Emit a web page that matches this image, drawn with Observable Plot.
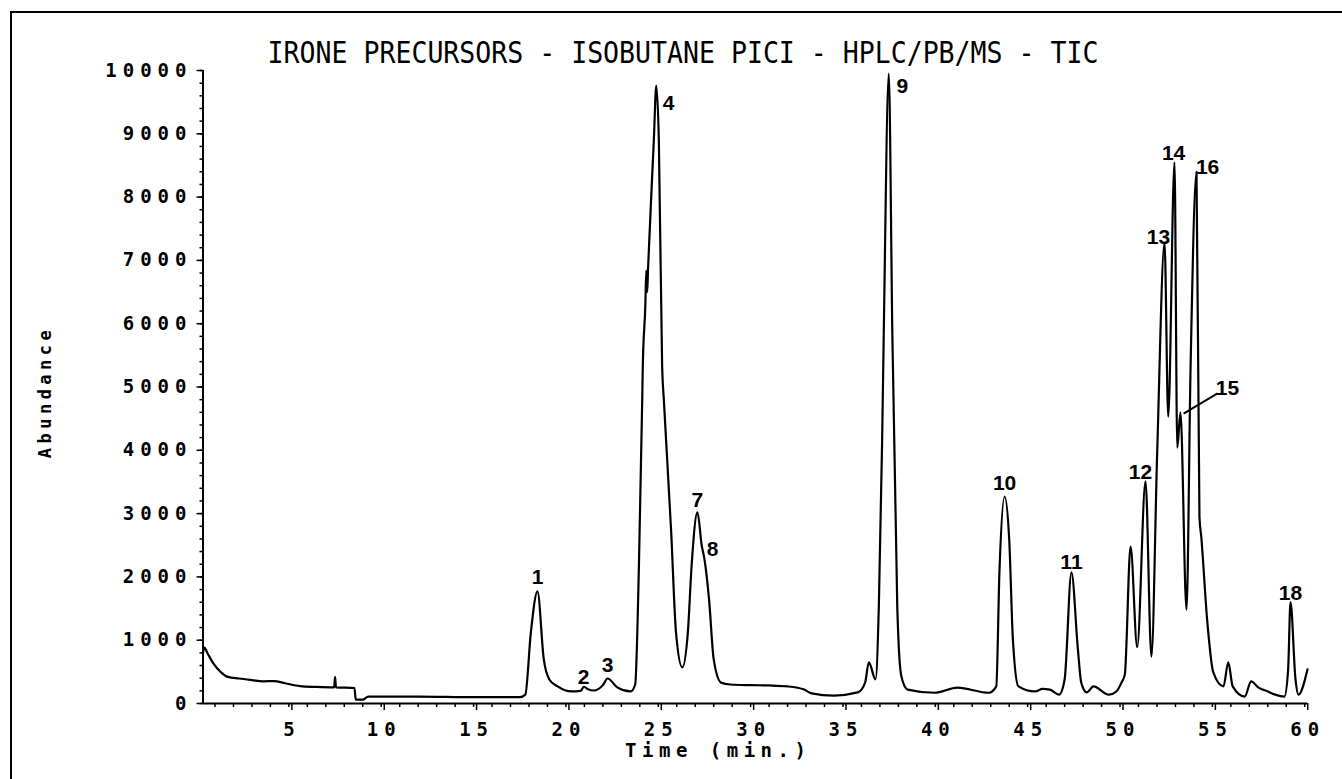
<!DOCTYPE html>
<html><head><meta charset="utf-8">
<script src="https://cdn.jsdelivr.net/npm/d3@7"></script>
<script src="https://cdn.jsdelivr.net/npm/@observablehq/plot@0.6"></script>
<style>
html,body{margin:0;padding:0;background:#fff;}
#wrap{position:relative;width:1342px;height:779px;overflow:hidden;background:#fff;}
#frame{position:absolute;left:10px;top:11px;width:1340px;height:780px;border-top:2px solid #000;border-left:2px solid #000;}
#title{position:absolute;left:683px;top:37px;display:inline-block;white-space:nowrap;font:31px "DejaVu Sans Mono";line-height:31px;color:#000;transform:translateX(-50%) scaleX(0.856);}
#chart{position:absolute;left:0;top:0;}
g[aria-label="y-axis tick label"] text, g[aria-label="x-axis tick label"] text{letter-spacing:6px;}
</style>
</head><body>
<div id="wrap"><div id="frame"></div><div id="chart"></div><div id="title">IRONE PRECURSORS - ISOBUTANE PICI - HPLC/PB/MS - TIC</div></div>
<script>
// Total ion current trace (time in min, abundance)
const times = [0.35,0.42,0.6,0.92,1.3,1.7,2.3,3.0,3.6,4.2,4.8,5.6,6.5,7.45,7.5,7.55,8.55,8.62,9.0,9.3,12,15,17.5,17.8,18.1,18.46,18.8,19.1,19.55,20.3,20.8,20.97,21.2,21.5,22.0,22.25,22.8,23.5,23.75,23.95,24.13,24.16,24.3,24.35,24.4,24.45,24.76,24.89,25.03,25.21,25.3,25.7,25.96,26.3,26.6,26.8,27.12,27.35,27.5,27.75,28.0,28.4,28.9,30,31,32,32.9,33.3,34.5,35.8,36.2,36.4,36.76,36.94,37.12,37.21,37.48,37.67,37.94,38.16,38.5,39.95,41.2,42.9,43.3,43.47,43.75,44.0,44.2,44.5,45.4,45.8,46.2,46.7,47.0,47.37,47.72,47.9,48.2,48.56,49.4,49.8,50.08,50.26,50.57,50.93,51.38,51.7,52.01,52.41,52.61,52.95,53.1,53.27,53.6,53.82,54.14,54.3,54.4,54.72,55.05,55.6,55.86,56.1,56.75,57.1,57.5,58.0,58.4,58.9,59.1,59.23,59.5,59.66,60.15];
const abundance = [800,885,790,630,500,420,395,370,350,355,320,275,262,255,420,255,245,60,60,110,110,100,100,140,1120,1770,700,380,270,190,200,265,225,205,290,395,250,190,300,2150,4790,5310,6300,6840,6500,6900,8900,9760,8900,5310,4800,2700,1120,570,1120,2160,3020,2500,2280,1640,700,330,300,290,285,270,220,160,125,175,330,650,380,1520,4155,5890,9950,5890,1520,430,220,170,250,170,270,2070,3270,2590,1010,270,190,230,220,140,380,2070,850,330,175,270,140,190,330,460,2480,890,3510,740,3950,7280,4530,8550,4040,4600,1480,5320,8400,2950,2630,1310,490,270,650,270,110,350,250,190,140,110,530,1600,380,140,540];

// Peak numbers and where they are written
const peakLabels = ["1","2","3","4","7","8","9","10","11","12","13","14","15","16","18"];
const peakLabelTime = [18.46,20.95,22.25,25.56,27.12,27.94,38.22,43.75,47.37,51.11,52.08,52.9,55.82,54.74,59.23];
const peakLabelAbund = [1990,410,600,9480,3210,2430,9750,3480,2230,3650,7360,8690,4980,8470,1740];

// Leader line for peak 15
const leaderTime = [53.44, 55.28];
const leaderAbund = [4580, 4900];

// Axis ticks and titles
const xMajorTicks = [5,10,15,20,25,30,35,40,45,50,55,60];
const xMinorTicks = [1,2,3,4,5,6,7,8,9,10,11,12,13,14,15,16,17,18,19,20,21,22,23,24,25,26,27,28,29,30,31,32,33,34,35,36,37,38,39,40,41,42,43,44,45,46,47,48,49,50,51,52,53,54,55,56,57,58,59,60];
const yMajorTicks = [0,1000,2000,3000,4000,5000,6000,7000,8000,9000,10000];
const yMinorTicks = d3.range(0, 10001, 200);
const xTitle = "Time (min.)";
const yTitle = "Abundance";
const xDomain = [0.35, 60.15];
const yDomain = [0, 10000];

const trace = times.map((t, i) => ({t, a: abundance[i]}));
const peaks = peakLabels.map((l, i) => ({label: l, t: peakLabelTime[i], a: peakLabelAbund[i]}));
const leader = [{t1: leaderTime[0], a1: leaderAbund[0], t2: leaderTime[1], a2: leaderAbund[1]}];

const tickFont = {fontFamily: "DejaVu Sans Mono", fontSize: 19, fontWeight: "bold"};

const chart = Plot.plot({
  width: 1342,
  height: 779,
  marginLeft: 202.5,
  marginRight: 35,
  marginTop: 70,
  marginBottom: 76,
  style: {background: "transparent", color: "black", fontFamily: "DejaVu Sans Mono", overflow: "visible"},
  x: {domain: xDomain},
  y: {domain: yDomain},
  marks: [
    Plot.ruleY([0], {strokeWidth: 2}),
    Plot.ruleX([xDomain[0]], {strokeWidth: 2}),
    Plot.axisX(xMinorTicks, {tickSize: 4, tickFormat: () => "", label: null, strokeWidth: 1.5}),
    Plot.axisX(xMajorTicks, {tickSize: 7, tickPadding: 12, label: null, strokeWidth: 1.5, dx: 3, tickFormat: d => String(d), ...tickFont}),
    Plot.axisY(yMinorTicks, {tickSize: 3, tickFormat: () => "", label: null, strokeWidth: 1.5}),
    Plot.axisY(yMajorTicks, {tickSize: 6, tickPadding: 4.5, label: null, strokeWidth: 1.5, tickFormat: d => String(d), ...tickFont}),
    Plot.line(trace, {x: "t", y: "a", stroke: "black", strokeWidth: 2.2, curve: "monotone-x"}),
    Plot.link(leader, {x1: "t1", y1: "a1", x2: "t2", y2: "a2", stroke: "black", strokeWidth: 2}),
    Plot.text(peaks, {x: "t", y: "a", text: "label", fontFamily: "Liberation Sans", fontSize: 21, fontWeight: "bold", fill: "black"}),
    Plot.text([xTitle], {text: d => d, frameAnchor: "bottom", dx: -37, dy: 53, fontFamily: "DejaVu Sans Mono", fontSize: 19, fontWeight: "bold"}),
    Plot.text([yTitle], {text: d => d, frameAnchor: "left", textAnchor: "middle", rotate: -90, dx: -157, dy: 5, fontFamily: "DejaVu Sans Mono", fontSize: 17, fontWeight: "bold"})
  ]
});
// letter spacing for the plotter-style axis titles
d3.select(chart).selectAll("text").filter(function() { return this.textContent === xTitle; }).style("letter-spacing", "5.5px");
d3.select(chart).selectAll("text").filter(function() { return this.textContent === yTitle; }).style("letter-spacing", "4.5px");
document.getElementById("chart").appendChild(chart);
</script>
</body></html>
